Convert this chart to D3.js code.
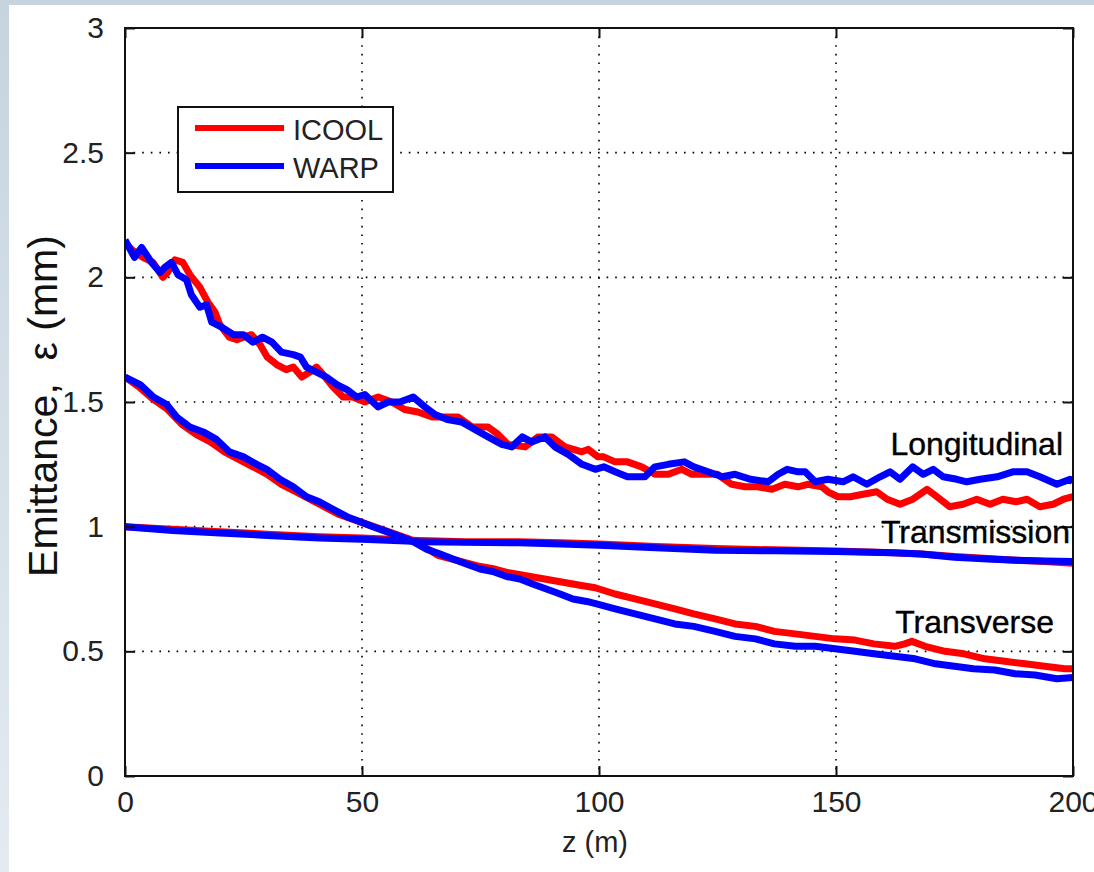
<!DOCTYPE html>
<html>
<head>
<meta charset="utf-8">
<script src="https://cdn.jsdelivr.net/npm/d3@7"></script>
<style>
  html, body { margin: 0; padding: 0; background: #fff; }
  svg { display: block; }
  text { font-family: "Liberation Sans", Arial, sans-serif; }
</style>
</head>
<body>
<svg id="chart" width="1094" height="872"></svg>
<script>
// ---- Data ----
const xTicks = [0, 50, 100, 150, 200];
const yTicks = [0, 0.5, 1, 1.5, 2, 2.5, 3];
const xTickLabels = ["0", "50", "100", "150", "200"];
const yTickLabels = ["0", "0.5", "1", "1.5", "2", "2.5", "3"];
const seriesNames = ["ICOOL", "WARP"];
const curveLabels = ["Longitudinal", "Transmission", "Transverse"];

// [z (m), emittance (mm)]
const icoolLongitudinal = [[0,2.14],[1.5,2.11],[3.8,2.08],[5.9,2.06],[8,2.00],[9,2.02],[10.5,2.07],[12.2,2.06],[13.7,2.01],[15.8,1.96],[17.5,1.90],[19,1.86],[20,1.81],[22,1.76],[23.6,1.75],[25,1.76],[26.7,1.77],[28.5,1.73],[30,1.68],[32,1.65],[34,1.63],[35.5,1.64],[37.3,1.60],[39,1.62],[40.4,1.64],[41.8,1.61],[43.9,1.56],[46,1.52],[48,1.52],[50.6,1.50],[53.4,1.52],[56.3,1.50],[59,1.47],[61.8,1.46],[64.8,1.44],[67.5,1.44],[70.3,1.44],[73.2,1.40],[76.6,1.40],[78.7,1.37],[80.8,1.33],[84.4,1.32],[87.1,1.36],[90,1.36],[92.8,1.32],[96.4,1.30],[97.7,1.31],[99.8,1.28],[101,1.28],[103.4,1.26],[106,1.26],[109,1.24],[111.8,1.21],[114.6,1.21],[117.5,1.23],[119.6,1.21],[122.4,1.21],[125,1.21],[128,1.17],[130.8,1.16],[133.5,1.16],[136.5,1.15],[139.2,1.17],[142,1.16],[144,1.17],[147,1.16],[148.3,1.14],[150.4,1.12],[153,1.12],[155.7,1.13],[158.6,1.14],[160.8,1.11],[163.5,1.09],[166.2,1.11],[169.2,1.15],[171.3,1.12],[174,1.08],[176.8,1.09],[179.7,1.11],[182.5,1.09],[185.2,1.11],[188,1.10],[190.3,1.11],[193,1.08],[195.8,1.09],[198,1.11],[200,1.12]];
const warpLongitudinal = [[0,2.15],[2,2.08],[3.5,2.12],[5.6,2.06],[7.4,2.02],[8.4,2.04],[9.8,2.06],[11.2,2.01],[13,1.99],[14,1.93],[15.8,1.88],[17.2,1.89],[18.3,1.82],[20.4,1.80],[22.9,1.77],[25,1.77],[27,1.74],[29,1.76],[31,1.74],[33,1.70],[35.5,1.69],[37,1.68],[38.3,1.64],[40.4,1.62],[42.5,1.60],[44.7,1.57],[46.8,1.55],[48.9,1.52],[50.6,1.53],[53.4,1.48],[55.5,1.50],[58,1.50],[60.8,1.52],[63.3,1.48],[65.4,1.45],[68,1.43],[71,1.42],[73.8,1.39],[76.6,1.36],[79.5,1.33],[81.6,1.32],[83.8,1.36],[85.8,1.34],[88.6,1.36],[90.7,1.32],[93.5,1.29],[96.4,1.25],[99.2,1.23],[101,1.24],[103.4,1.22],[106,1.20],[109.7,1.20],[111.8,1.24],[114.6,1.25],[118,1.26],[120,1.24],[123,1.22],[126,1.20],[128.7,1.21],[132,1.19],[135.7,1.18],[137.8,1.21],[139.7,1.23],[142,1.22],[143.5,1.22],[145.6,1.18],[148.3,1.19],[151.5,1.18],[153.6,1.20],[156.5,1.17],[159.3,1.20],[161.4,1.22],[163.5,1.19],[166.2,1.24],[168.4,1.21],[170.5,1.23],[172.6,1.20],[175.5,1.19],[177.6,1.18],[180.4,1.19],[184,1.20],[187.3,1.22],[190.3,1.22],[193,1.20],[196.6,1.17],[199.4,1.19],[200,1.18]];
const icoolTransverse = [[0,1.60],[3,1.56],[6,1.51],[9,1.47],[12,1.41],[15,1.37],[18,1.34],[21,1.30],[24,1.27],[27,1.24],[30,1.21],[33,1.17],[36,1.14],[39,1.11],[42,1.08],[45,1.05],[48,1.03],[51,1.01],[54,0.99],[57,0.97],[60,0.95],[63,0.92],[66,0.885],[69,0.87],[72,0.855],[75,0.84],[78,0.83],[81,0.815],[84,0.805],[87,0.795],[90,0.785],[93,0.775],[96,0.765],[99.2,0.755],[103.4,0.73],[107.6,0.71],[111.8,0.69],[116,0.67],[120,0.65],[124.5,0.63],[128.7,0.61],[133,0.60],[137,0.58],[141.4,0.57],[145.6,0.56],[149.8,0.55],[154,0.545],[158,0.53],[162.4,0.52],[164.5,0.53],[166,0.54],[168.8,0.52],[173,0.50],[177,0.49],[181.4,0.47],[185.6,0.46],[189.9,0.45],[194,0.44],[198.3,0.43],[200,0.43]];
const warpTransverse = [[0,1.60],[3.2,1.57],[6,1.52],[8.8,1.49],[10.9,1.44],[13.7,1.40],[16.5,1.38],[19.3,1.35],[22,1.30],[25,1.28],[27.8,1.25],[29.9,1.23],[32.7,1.19],[35.5,1.16],[38.3,1.12],[41,1.10],[43.9,1.07],[46.8,1.04],[49.6,1.02],[52.3,1.00],[55.2,0.98],[58,0.96],[60.8,0.94],[63.6,0.91],[66.5,0.89],[69.2,0.87],[72,0.85],[74.9,0.83],[77.6,0.82],[80.5,0.80],[83.3,0.79],[86,0.77],[88.9,0.75],[91.8,0.73],[94.5,0.71],[97.4,0.70],[99.5,0.69],[103.4,0.67],[107.6,0.65],[111.8,0.63],[116,0.61],[120,0.60],[124.5,0.58],[128.7,0.56],[133,0.55],[137,0.53],[141.4,0.52],[145.6,0.52],[149.8,0.51],[154,0.50],[158,0.49],[162.4,0.48],[166.7,0.47],[171,0.45],[175,0.44],[179,0.43],[183.5,0.425],[187.8,0.41],[192,0.405],[196.6,0.39],[200,0.395]];
const icoolTransmission = [[0,1.00],[10,0.99],[20,0.98],[30,0.97],[41,0.96],[50,0.955],[62,0.945],[72,0.94],[83,0.94],[92,0.935],[100,0.93],[112,0.92],[124.5,0.912],[137,0.907],[150,0.902],[162,0.895],[168,0.89],[175,0.88],[182,0.872],[188,0.865],[194,0.86],[200,0.853]];
const warpTransmission = [[0,1.00],[10,0.985],[20,0.975],[30,0.965],[41,0.955],[50,0.95],[62,0.94],[72,0.937],[83,0.935],[92,0.93],[100,0.925],[112,0.915],[124.5,0.905],[137,0.903],[150,0.90],[162,0.895],[168,0.89],[175,0.877],[182,0.87],[188,0.865],[194,0.862],[200,0.86]];

// ---- Layout ----
const W = 1094, H = 872;
const plot = { left: 125, right: 1073, top: 28, bottom: 776 };
const RED = "#ff0000", BLUE = "#0000ff";

const svg = d3.select("#chart");
const defs = svg.append("defs");

// page background (light blue frame on top/left)
const bg = defs.append("linearGradient").attr("id", "bgGrad").attr("x1", 0).attr("y1", 0).attr("x2", 0).attr("y2", 1);
bg.append("stop").attr("offset", "0%").attr("stop-color", "#c6d4e0");
bg.append("stop").attr("offset", "100%").attr("stop-color", "#e4eaf0");
svg.append("rect").attr("width", W).attr("height", H).attr("fill", "url(#bgGrad)");
svg.append("rect").attr("x", 9).attr("y", 5).attr("width", W - 9).attr("height", H - 5).attr("fill", "#fff");

defs.append("clipPath").attr("id", "clip").append("rect")
  .attr("x", plot.left).attr("y", plot.top)
  .attr("width", plot.right - plot.left).attr("height", plot.bottom - plot.top);

const x = d3.scaleLinear().domain([0, 200]).range([plot.left, plot.right]);
const y = d3.scaleLinear().domain([0, 3]).range([plot.bottom, plot.top]);

// grid
const grid = svg.append("g").attr("stroke", "#000").attr("stroke-width", 1.6).attr("stroke-dasharray", "1.6,7");
xTicks.slice(1, -1).forEach(t => grid.append("line").attr("x1", x(t)).attr("x2", x(t)).attr("y1", plot.top).attr("y2", plot.bottom));
yTicks.slice(1, -1).forEach(t => grid.append("line").attr("y1", y(t)).attr("y2", y(t)).attr("x1", plot.left).attr("x2", plot.right));

// data lines
const line = d3.line().x(d => x(d[0])).y(d => y(d[1]));
const lines = svg.append("g").attr("clip-path", "url(#clip)").attr("fill", "none")
  .attr("stroke-width", 7).attr("stroke-linejoin", "round").attr("stroke-linecap", "butt");
[[icoolTransmission, RED], [icoolTransverse, RED], [icoolLongitudinal, RED],
 [warpTransmission, BLUE], [warpTransverse, BLUE], [warpLongitudinal, BLUE]]
  .forEach(([d, c]) => lines.append("path").datum(d).attr("stroke", c).attr("d", line));

// axes (MATLAB style, inward ticks on all four sides)
const tickLen = -10;
const axStyle = g => {
  g.select(".domain").remove();
  g.selectAll(".tick line").attr("stroke", "#111").attr("stroke-width", 2);
  g.selectAll(".tick text").attr("fill", "#222").style("font-size", "30px");
};
svg.append("g").attr("transform", `translate(0,${plot.bottom})`)
  .call(d3.axisBottom(x).tickValues(xTicks).tickFormat((d, i) => xTickLabels[i]).tickSize(tickLen).tickPadding(15))
  .call(axStyle)
  .selectAll(".tick text").attr("dy", "0.71em");
svg.append("g").attr("transform", `translate(0,${plot.top})`)
  .call(d3.axisTop(x).tickValues(xTicks).tickFormat("").tickSize(tickLen)).call(axStyle);
svg.append("g").attr("transform", `translate(${plot.left},0)`)
  .call(d3.axisLeft(y).tickValues(yTicks).tickFormat((d, i) => yTickLabels[i]).tickSize(tickLen).tickPadding(21))
  .call(axStyle);
svg.append("g").attr("transform", `translate(${plot.right},0)`)
  .call(d3.axisRight(y).tickValues(yTicks).tickFormat("").tickSize(tickLen)).call(axStyle);

svg.append("rect").attr("x", plot.left).attr("y", plot.top)
  .attr("width", plot.right - plot.left).attr("height", plot.bottom - plot.top)
  .attr("fill", "none").attr("stroke", "#111").attr("stroke-width", 2);

// axis labels
svg.append("text").attr("x", 595).attr("y", 852).attr("text-anchor", "middle")
  .attr("fill", "#222").style("font-size", "29px").text("z (m)");
svg.append("text").attr("transform", "translate(57,406) rotate(-90)").attr("text-anchor", "middle")
  .attr("fill", "#111").style("font-size", "41px").style("white-space", "pre").text("Emittance,  ε (mm)");

// curve annotations
const ann = [[curveLabels[0], 1063, 455], [curveLabels[1], 1070, 543], [curveLabels[2], 1054, 633]];
ann.forEach(([t, ax, ay]) => svg.append("text").attr("x", ax).attr("y", ay).attr("text-anchor", "end")
  .attr("fill", "#000").attr("stroke", "#000").attr("stroke-width", 0.4).style("font-size", "32px").text(t));

// legend
const lg = svg.append("g");
lg.append("rect").attr("x", 178).attr("y", 107).attr("width", 215).attr("height", 85)
  .attr("fill", "#fff").attr("stroke", "#111").attr("stroke-width", 2);
[[seriesNames[0], RED, 128], [seriesNames[1], BLUE, 166]].forEach(([n, c, ly]) => {
  lg.append("line").attr("x1", 195).attr("x2", 284).attr("y1", ly).attr("y2", ly).attr("stroke", c).attr("stroke-width", 6);
  lg.append("text").attr("x", 293).attr("y", ly + 12).attr("fill", "#222").style("font-size", "29px").text(n);
});
</script>
</body>
</html>
